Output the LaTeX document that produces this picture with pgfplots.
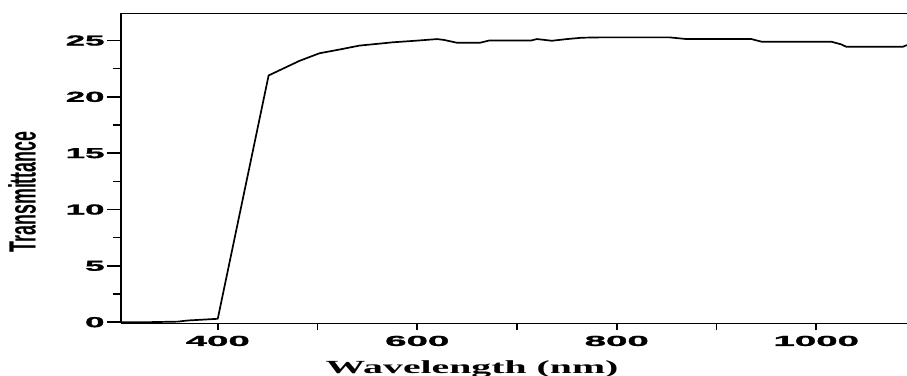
\documentclass[border=0pt]{standalone}
\usepackage{pgfplots}
\pgfplotsset{compat=1.18}
\usepackage{fontspec}
\newfontfamily\arial{Liberation Sans}[FakeBold=1.2]
\newfontfamily\arialn{Liberation Sans}
\newfontfamily\tnr{Liberation Serif}
\begin{document}
\begin{tikzpicture}
\begin{axis}[
  scale only axis,
  width=786bp, height=309.8bp,
  xmin=303, xmax=1091, ymin=-0.1, ymax=27.4,
  axis x line*=bottom, axis y line*=left,
  x axis line style={line width=1.3bp,-},
  y axis line style={line width=2.8bp,-},
  xtick=\empty,
  extra x ticks={400,500,600,700,800,900,1000},
  extra x tick labels={400,,600,,800,,1000},
  extra x tick style={major tick length=7bp},
  ytick={0,5,10,15,20,25}, minor ytick={2.5,7.5,12.5,17.5,22.5},
  tick align=outside,
  major tick length=14bp, minor tick length=8bp,
  every tick/.style={black, line width=1.6bp},
  /pgf/number format/assume math mode=true,
  /pgf/number format/1000 sep={},
  tick label style={font=\arial\bfseries\fontsize{14.5bp}{15bp}\selectfont},
  xticklabel style={anchor=north, yshift=-2bp, xscale=2.65},
  yticklabel={\scalebox{2.4}[1]{\pgfmathprintnumber{\tick}}},
  yticklabel style={anchor=east, xshift=1bp},
  xlabel={\scalebox{2.15}[1]{Wavelength (nm)}},
  every axis x label/.style={at={(rel axis cs:0.4466,0)}, anchor=base, yshift=-49.7bp,
    font=\tnr\bfseries\fontsize{18.5bp}{19bp}\selectfont},
  ylabel={\scalebox{0.47}[1]{Transmittance}},
  every axis y label/.style={at={(rel axis cs:0,0.424)}, anchor=center, xshift=-99bp, rotate=90,
    font=\arialn\bfseries\fontsize{38bp}{38bp}\selectfont},
  clip=false,
]
\addplot[black, line width=1.7bp, line join=round] coordinates {
(303,0) (330,0.0) (360,0.05) (370,0.15) (400,0.3) (451,21.9) (482,23.2) (502,23.87)
(522,24.2) (542,24.55) (565,24.75) (575,24.84) (598,24.98) (620,25.13) (627,25.05)
(640,24.8) (663,24.8) (672,25.0) (714,25.0) (720,25.13) (735,24.98) (750,25.13)
(765,25.25) (783,25.28) (853,25.28) (870,25.13) (935,25.13) (945,24.9) (1015,24.9)
(1025,24.66) (1030,24.45) (1087,24.45) (1091,24.6)
};
\draw[line width=1.3bp] (rel axis cs:0,1) -- (rel axis cs:1,1);
\end{axis}
\pgfresetboundingbox
\path[use as bounding box] (-121bp,-52.7bp) rectangle (786bp,323.3bp);
\end{tikzpicture}
\end{document}
